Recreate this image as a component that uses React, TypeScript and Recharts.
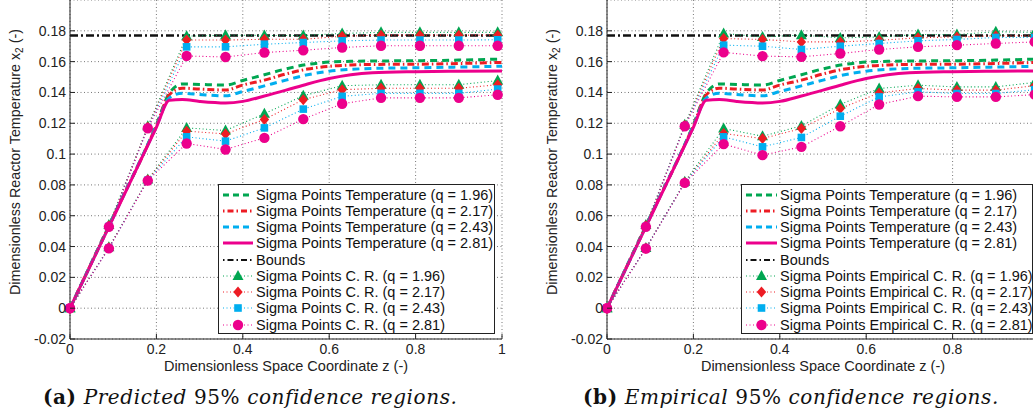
import React from 'react';
import { ComposedChart, Line, XAxis, YAxis, CartesianGrid, Legend } from 'recharts';

// axis ticks
const xTicks = [0, 0.2, 0.4, 0.6, 0.8, 1];
const yTicks = [-0.02, 0, 0.02, 0.04, 0.06, 0.08, 0.1, 0.12, 0.14, 0.16, 0.18];

// mean temperature curves (shared by both panels)
const zMean = [0, 0.1, 0.2, 0.23, 0.26, 0.3, 0.36, 0.4, 0.45, 0.5, 0.55, 0.6, 0.65, 0.7, 0.8, 0.9, 1];
const meanGreen = [0, 0.0595, 0.119, 0.1395, 0.1455, 0.1452, 0.1448, 0.1478, 0.1515, 0.1553, 0.1582, 0.1597, 0.1602, 0.1604, 0.1606, 0.161, 0.1617];
const meanRed = [0, 0.0592, 0.1185, 0.1385, 0.1428, 0.1422, 0.1416, 0.1448, 0.148, 0.152, 0.1552, 0.157, 0.1578, 0.1582, 0.1583, 0.1588, 0.1595];
const meanBlue = [0, 0.059, 0.118, 0.1365, 0.1395, 0.1387, 0.1378, 0.1406, 0.1443, 0.148, 0.1515, 0.1538, 0.155, 0.1556, 0.156, 0.1565, 0.157];
const meanPink = [0, 0.0587, 0.1174, 0.135, 0.1354, 0.1342, 0.1332, 0.1342, 0.1377, 0.1415, 0.1455, 0.149, 0.1515, 0.1528, 0.1535, 0.1538, 0.154];

const boundsZ = [0, 1];
const boundsV = [0.177, 0.177];

// sigma point positions
const zPts = [0, 0.09, 0.18, 0.27, 0.36, 0.45, 0.54, 0.63, 0.72, 0.81, 0.9, 0.99];

// (a) predicted confidence regions
const predUpGreen = [0, 0.054, 0.118, 0.1765, 0.1772, 0.177, 0.177, 0.1783, 0.179, 0.179, 0.179, 0.179];
const predUpRed = [0, 0.0535, 0.1175, 0.174, 0.174, 0.1745, 0.1745, 0.1765, 0.1772, 0.1772, 0.1772, 0.1772];
const predUpBlue = [0, 0.053, 0.117, 0.1696, 0.1696, 0.1713, 0.1724, 0.1735, 0.174, 0.174, 0.174, 0.1742];
const predUpPink = [0, 0.0528, 0.1168, 0.1637, 0.163, 0.1659, 0.1674, 0.1692, 0.1703, 0.1703, 0.1703, 0.1703];
const predLoGreen = [0, 0.0395, 0.0835, 0.117, 0.1153, 0.1262, 0.1379, 0.1444, 0.145, 0.145, 0.145, 0.1477];
const predLoRed = [0, 0.0392, 0.0832, 0.1149, 0.1131, 0.1225, 0.1353, 0.1418, 0.1427, 0.1427, 0.1427, 0.145];
const predLoBlue = [0, 0.039, 0.083, 0.1112, 0.1084, 0.117, 0.1292, 0.1375, 0.1394, 0.1394, 0.1394, 0.1422];
const predLoPink = [0, 0.0388, 0.0828, 0.1069, 0.103, 0.1105, 0.1227, 0.1327, 0.1365, 0.1365, 0.1365, 0.1385];

// (b) empirical confidence regions
const empUpGreen = [0, 0.054, 0.119, 0.1783, 0.176, 0.1772, 0.1754, 0.176, 0.1776, 0.1776, 0.1794, 0.179];
const empUpRed = [0, 0.0535, 0.1185, 0.175, 0.1744, 0.1728, 0.1728, 0.1738, 0.1755, 0.176, 0.1768, 0.1768];
const empUpBlue = [0, 0.053, 0.1183, 0.1707, 0.17, 0.1679, 0.17, 0.1718, 0.1735, 0.1744, 0.1757, 0.1757];
const empUpPink = [0, 0.0528, 0.1181, 0.166, 0.1636, 0.1631, 0.1653, 0.1679, 0.1696, 0.1707, 0.1718, 0.1728];
const empLoGreen = [0, 0.039, 0.082, 0.1166, 0.1116, 0.1183, 0.1322, 0.1426, 0.1447, 0.1436, 0.1436, 0.1465];
const empLoRed = [0, 0.0388, 0.0815, 0.1134, 0.1101, 0.1166, 0.1296, 0.1397, 0.1426, 0.1415, 0.1415, 0.1444];
const empLoBlue = [0, 0.0388, 0.0814, 0.1112, 0.1047, 0.1108, 0.1246, 0.1371, 0.1404, 0.1393, 0.1393, 0.1418];
const empLoPink = [0, 0.0387, 0.0813, 0.1065, 0.0993, 0.1047, 0.1181, 0.1322, 0.1376, 0.1371, 0.1371, 0.1386];

const predLabels = [
  'Sigma Points Temperature (q = 1.96)',
  'Sigma Points Temperature (q = 2.17)',
  'Sigma Points Temperature (q = 2.43)',
  'Sigma Points Temperature (q = 2.81)',
  'Bounds',
  'Sigma Points C. R. (q = 1.96)',
  'Sigma Points C. R. (q = 2.17)',
  'Sigma Points C. R. (q = 2.43)',
  'Sigma Points C. R. (q = 2.81)',
];
const empLabels = [
  'Sigma Points Temperature (q = 1.96)',
  'Sigma Points Temperature (q = 2.17)',
  'Sigma Points Temperature (q = 2.43)',
  'Sigma Points Temperature (q = 2.81)',
  'Bounds',
  'Sigma Points Empirical C. R. (q = 1.96)',
  'Sigma Points Empirical C. R. (q = 2.17)',
  'Sigma Points Empirical C. R. (q = 2.43)',
  'Sigma Points Empirical C. R. (q = 2.81)',
];

const GREEN = '#00a651';
const RED = '#ed1c24';
const BLUE = '#00aeef';
const PINK = '#ec008c';
const FONT = '"Liberation Sans", Arial, sans-serif';

const pts = (xs: number[], ys: number[]) => xs.map((z, i) => ({ z, v: ys[i] }));

type Shape = 'tri' | 'dia' | 'sq' | 'circ';

const Marker = ({ cx, cy, shape, color }: { cx: number; cy: number; shape: Shape; color: string }) => {
  if (shape === 'tri') return <path d={`M${cx},${cy - 6}L${cx + 5.5},${cy + 4}L${cx - 5.5},${cy + 4}Z`} fill={color} />;
  if (shape === 'dia') return <path d={`M${cx},${cy - 5.5}L${cx + 4.7},${cy}L${cx},${cy + 5.5}L${cx - 4.7},${cy}Z`} fill={color} />;
  if (shape === 'sq') return <rect x={cx - 3.8} y={cy - 3.8} width={7.6} height={7.6} fill={color} />;
  return <circle cx={cx} cy={cy} r={5.2} fill={color} />;
};

const dotFn = (shape: Shape, color: string) => (p: any) => (
  <Marker key={`${shape}-${p.index}`} cx={p.cx} cy={p.cy} shape={shape} color={color} />
);

// legend sample styles, in legend order
const legendStyles = [
  { color: GREEN, dash: '6 4', width: 3 },
  { color: RED, dash: '1.5 3 6 3', width: 3 },
  { color: BLUE, dash: '6 4', width: 3 },
  { color: PINK, dash: undefined, width: 3 },
  { color: '#111', dash: '1.5 3 6 3', width: 2 },
  { color: GREEN, dash: '1 2.5', width: 1, shape: 'tri' as Shape },
  { color: RED, dash: '1 2.5', width: 1, shape: 'dia' as Shape },
  { color: BLUE, dash: '1 2.5', width: 1, shape: 'sq' as Shape },
  { color: PINK, dash: '1 2.5', width: 1, shape: 'circ' as Shape },
];

const LegendBox = ({ labels, width, indent }: { labels: string[]; width: number; indent: number }) => (
  <div
    style={{
      width,
      boxSizing: 'border-box',
      border: '1.5px solid #222',
      background: '#fff',
      padding: '1.5px 0 0.5px 0',
      fontFamily: FONT,
      fontSize: 14.5,
      color: '#111',
      lineHeight: '16.25px',
    }}
  >
    {labels.map((label, i) => {
      const st = legendStyles[i];
      return (
        <div key={label + i} style={{ display: 'flex', alignItems: 'center', height: 16.25, whiteSpace: 'nowrap' }}>
          <svg width={indent} height={16} style={{ flex: 'none' }}>
            <line x1={4} x2={indent - 3} y1={8} y2={8} stroke={st.color} strokeWidth={st.width} strokeDasharray={st.dash} />
            {st.shape && <Marker cx={(indent + 1) / 2} cy={8} shape={st.shape} color={st.color} />}
          </svg>
          <span>{label}</span>
        </div>
      );
    })}
  </div>
);

const XTick = (p: any) => (
  <g>
    <line x1={p.x} x2={p.x} y1={339} y2={334} stroke="#222" />
    {p.payload.value <= p.maxLabel && (
      <text x={p.x} y={344} dy="0.71em" textAnchor="middle" fontFamily={FONT} fontSize={14} fill="#222">
        {String(p.payload.value)}
      </text>
    )}
  </g>
);

const YTick = (p: any) => (
  <g>
    <line x1={70} x2={75} y1={p.y} y2={p.y} stroke="#222" />
    <text x={66} y={p.y} dy="0.355em" textAnchor="end" fontFamily={FONT} fontSize={14} fill="#222">
      {String(p.payload.value)}
    </text>
  </g>
);

const YTitle = () => (
  <text
    x={15}
    y={162}
    transform="rotate(-90, 15, 162)"
    textAnchor="middle"
    dominantBaseline="central"
    fontFamily={FONT}
    fontSize={14.3}
    fill="#222"
  >
    Dimensionless Reactor Temperature x<tspan dy={4} fontSize={10}>2</tspan>
    <tspan dy={-4}> (-)</tspan>
  </text>
);

const XTitle = () => (
  <text x={286} y={371} textAnchor="middle" fontFamily={FONT} fontSize={14.5} fill="#222">
    Dimensionless Space Coordinate z (-)
  </text>
);

type Region = { up: number[][]; lo: number[][] };

const markerSeries: { shape: Shape; color: string }[] = [
  { shape: 'tri', color: GREEN },
  { shape: 'dia', color: RED },
  { shape: 'sq', color: BLUE },
  { shape: 'circ', color: PINK },
];

const Panel = ({ region, labels, legendLeft, legendWidth, legendIndent, maxLabel }: {
  region: Region; labels: string[]; legendLeft: number; legendWidth: number; legendIndent: number; maxLabel: number;
}) => (
  <ComposedChart width={520} height={380} margin={{ top: 0, right: 18, bottom: 0, left: 0 }}>
    <CartesianGrid stroke="#777" strokeDasharray="1 2.5" />
    <XAxis
      dataKey="z"
      type="number"
      domain={[0, 1]}
      ticks={xTicks}
      interval={0}
      height={41}
      axisLine={{ stroke: '#222' }}
      tickLine={false}
      tick={<XTick maxLabel={maxLabel} />}
      label={<XTitle />}
    />
    <YAxis
      dataKey="v"
      type="number"
      domain={[-0.02, 0.2]}
      ticks={yTicks}
      interval={0}
      width={70}
      axisLine={{ stroke: '#222' }}
      tickLine={false}
      tick={<YTick />}
      label={<YTitle />}
    />
    <Legend
      layout="vertical"
      align="center"
      verticalAlign="middle"
      wrapperStyle={{ left: legendLeft, top: 184, width: legendWidth }}
      content={() => <LegendBox labels={labels} width={legendWidth} indent={legendIndent} />}
    />
    <Line data={pts(zMean, meanGreen)} dataKey="v" type="monotone" stroke={GREEN} strokeWidth={3} strokeDasharray="7 5" dot={false} activeDot={false} isAnimationActive={false} />
    <Line data={pts(zMean, meanRed)} dataKey="v" type="monotone" stroke={RED} strokeWidth={3} strokeDasharray="7 3 1.5 3" dot={false} activeDot={false} isAnimationActive={false} />
    <Line data={pts(zMean, meanBlue)} dataKey="v" type="monotone" stroke={BLUE} strokeWidth={3} strokeDasharray="7 5" dot={false} activeDot={false} isAnimationActive={false} />
    <Line data={pts(zMean, meanPink)} dataKey="v" type="monotone" stroke={PINK} strokeWidth={3} dot={false} activeDot={false} isAnimationActive={false} />
    <Line data={pts(boundsZ, boundsV)} dataKey="v" type="linear" stroke="#111" strokeWidth={2.5} strokeDasharray="8 3 2 3" dot={false} activeDot={false} isAnimationActive={false} />
    {markerSeries.map((m, i) => [
      <Line key={`up-${i}`} data={pts(zPts, region.up[i])} dataKey="v" type="linear" stroke={m.color} strokeWidth={1.1} strokeDasharray="1 2.5" dot={dotFn(m.shape, m.color)} activeDot={false} isAnimationActive={false} />,
      <Line key={`lo-${i}`} data={pts(zPts, region.lo[i])} dataKey="v" type="linear" stroke={m.color} strokeWidth={1.1} strokeDasharray="1 2.5" dot={dotFn(m.shape, m.color)} activeDot={false} isAnimationActive={false} />,
    ])}
  </ComposedChart>
);

const captionStyle: React.CSSProperties = {
  position: 'absolute',
  top: 385,
  fontFamily: '"DejaVu Serif", serif',
  fontSize: 20,
  letterSpacing: 0.6,
  color: '#111',
  whiteSpace: 'nowrap',
};

export default function App() {
  return (
    <div style={{ position: 'absolute', left: 0, top: 0, width: 1033, height: 419, overflow: 'hidden', background: '#fff' }}>
      <div style={{ position: 'absolute', left: 0, top: 0 }}>
        <Panel
          region={{ up: [predUpGreen, predUpRed, predUpBlue, predUpPink], lo: [predLoGreen, predLoRed, predLoBlue, predLoPink] }}
          labels={predLabels}
          legendLeft={218}
          legendWidth={277}
          legendIndent={37}
          maxLabel={1}
        />
      </div>
      <div style={{ position: 'absolute', left: 537, top: 0 }}>
        <Panel
          region={{ up: [empUpGreen, empUpRed, empUpBlue, empUpPink], lo: [empLoGreen, empLoRed, empLoBlue, empLoPink] }}
          labels={empLabels}
          legendLeft={204}
          legendWidth={292}
          legendIndent={38}
          maxLabel={0.8}
        />
      </div>
      <div style={{ ...captionStyle, left: 43 }}>
        <b style={{ fontStyle: 'normal' }}>(a)</b> <i>Predicted</i> 95% <i>confidence regions.</i>
      </div>
      <div style={{ ...captionStyle, left: 583 }}>
        <b style={{ fontStyle: 'normal' }}>(b)</b> <i>Empirical</i> 95% <i>confidence regions.</i>
      </div>
    </div>
  );
}
